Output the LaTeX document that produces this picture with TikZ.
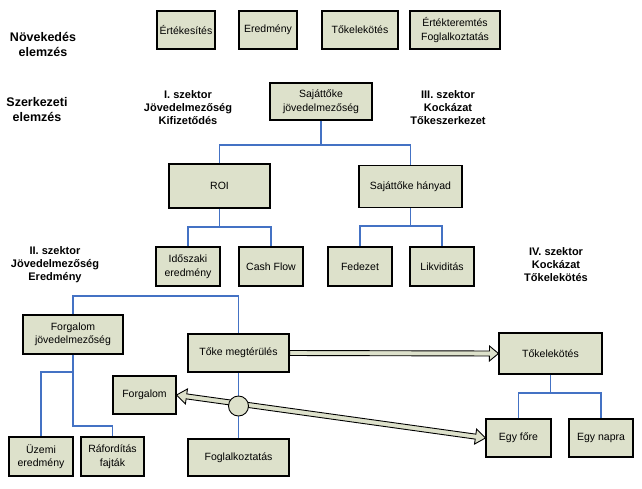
\documentclass[tikz,border=0pt]{standalone}
\usepackage{fontspec}
\setmainfont{Liberation Sans}
\usetikzlibrary{calc}
\definecolor{boxfill}{RGB}{221,225,203}
\definecolor{connblue}{RGB}{68,114,196}
\tikzset{
  box/.style={draw=black, fill=boxfill, line width=1.1pt, align=center, inner sep=1pt,
    font=\fontsize{10.5}{13.5}\selectfont},
  conn/.style={draw=connblue, line width=1.2pt},
  lbl/.style={align=center, font=\bfseries\fontsize{11}{13}\selectfont},
  biglbl/.style={align=center, font=\bfseries\fontsize{12.5}{15}\selectfont},
  blockarrow/.style={draw=black, fill=boxfill, line width=0.9pt, line join=miter},
}
\begin{document}
\begin{tikzpicture}[x=1pt,y=-1pt]
\useasboundingbox (0,0) rectangle (642,488);

% labels
\node[biglbl] (lg) at (43,44) {Növekedés\\elemzés};
\node[biglbl] (ls) at (37,110) {Szerkezeti\\elemzés};
\node[lbl] (l1) at (188,108) {I. szektor\\Jövedelmezőség\\Kifizetődés};
\node[lbl] (l3) at (448,108) {III. szektor\\Kockázat\\Tőkeszerkezet};
\node[lbl] (l2) at (55,265) {II. szektor\\Jövedelmezőség\\Eredmény};
\node[lbl] (l4) at (556,265) {IV. szektor\\Kockázat\\Tőkelekötés};

% top row
\node[box, minimum width=58pt, minimum height=38pt] (ert) at (186,30) {Értékesítés};
\node[box, minimum width=58pt, minimum height=38pt] (ered) at (268,30) {Eredmény};
\node[box, minimum width=76pt, minimum height=38pt] (tokA) at (360,30) {Tőkelekötés};
\node[box, minimum width=90pt, minimum height=38pt] (erteket) at (455,30) {Értékteremtés\\Foglalkoztatás};

% structure
\node[box, minimum width=102pt, minimum height=37pt] (sajat) at (321,101.5) {Sajáttőke\\jövedelmezőség};
\node[box, minimum width=101pt, minimum height=44pt] (roi) at (219.5,186) {ROI};
\node[box, minimum width=103pt, minimum height=42pt] (hanyad) at (410.5,186.5) {Sajáttőke hányad};
\node[box, minimum width=64pt, minimum height=39pt] (idosz) at (188,266.5) {Időszaki\\eredmény};
\node[box, minimum width=64pt, minimum height=39pt] (cash) at (271,266.5) {Cash Flow};
\node[box, minimum width=64pt, minimum height=39pt] (fedezet) at (360,266.5) {Fedezet};
\node[box, minimum width=64pt, minimum height=39pt] (likv) at (442,266.5) {Likviditás};

% bottom part
\node[box, minimum width=100pt, minimum height=39pt] (forgj) at (73,334.5) {Forgalom\\jövedelmezőség};
\node[box, minimum width=101pt, minimum height=38pt] (tokem) at (238.5,353) {Tőke megtérülés};
\node[box, minimum width=63pt, minimum height=38pt] (forg) at (144.5,395) {Forgalom};
\node[box, minimum width=101pt, minimum height=37pt] (fogl) at (238.5,457.5) {Foglalkoztatás};
\node[box, minimum width=64pt, minimum height=39pt] (uzemi) at (41,456.5) {Üzemi\\eredmény};
\node[box, minimum width=63pt, minimum height=39pt] (rafor) at (112.5,456.5) {Ráfordítás\\fajták};
\node[box, minimum width=103pt, minimum height=41pt] (tokB) at (550.5,353.5) {Tőkelekötés};
\node[box, minimum width=65pt, minimum height=38pt] (egyf) at (518.5,438) {Egy főre};
\node[box, minimum width=64pt, minimum height=38pt] (egyn) at (601,438) {Egy napra};

% blue connectors
\coordinate (j1) at (321,145);
\draw[conn] (sajat.south) -- (j1);
\draw[conn] (roi.north) |- (j1) -| (hanyad.north);
\coordinate (j2) at (219.5,227);
\draw[conn] (roi.south) -- (j2);
\draw[conn] (idosz.north) |- (j2) -| (cash.north);
\coordinate (j3) at (410.5,226);
\draw[conn] (hanyad.south) -- (j3);
\draw[conn] (fedezet.north) |- (j3) -| (likv.north);
\coordinate (j4) at (73,296);
\draw[conn] (forgj.north) -- (j4) -| (tokem.north);
\coordinate (j5) at (73,372);
\coordinate (j6) at (73,426);
\draw[conn] (forgj.south) -- (j6) -| (rafor.north);
\draw[conn] (j5) -| (uzemi.north);
\draw[conn] (tokem.south) -- (fogl.north);
\coordinate (j7) at (550.5,393);
\draw[conn] (tokB.south) -- (j7);
\draw[conn] (egyf.north) |- (j7) -| (egyn.north);

% horizontal block arrow
\coordinate (a1) at (tokem.east);
\coordinate (a2) at (tokB.west);
\coordinate (ah) at ($(a2)!9pt!(a1)$);
\draw[blockarrow] ($(a1)!2.5pt!90:(a2)$) -- ($(ah)!2.5pt!-90:(a1)$) -- ($(ah)!7.5pt!-90:(a1)$) -- (a2)
  -- ($(ah)!7.5pt!90:(a1)$) -- ($(ah)!2.5pt!90:(a1)$) -- ($(a1)!2.5pt!-90:(a2)$) -- cycle;

% diagonal double-headed block arrow
\coordinate (b1) at (forg.east);
\coordinate (b2) at (egyf.west);
\coordinate (bh1) at ($(b1)!10pt!(b2)$);
\coordinate (bh2) at ($(b2)!10pt!(b1)$);
\draw[blockarrow] (b1) -- ($(bh1)!7.5pt!90:(b2)$) -- ($(bh1)!2.5pt!90:(b2)$) -- ($(bh2)!2.5pt!-90:(b1)$)
  -- ($(bh2)!7.5pt!-90:(b1)$) -- (b2) -- ($(bh2)!7.5pt!90:(b1)$) -- ($(bh2)!2.5pt!90:(b1)$)
  -- ($(bh1)!2.5pt!-90:(b2)$) -- ($(bh1)!7.5pt!-90:(b2)$) -- cycle;

% circle junction
\node[circle, draw=black, fill=boxfill, line width=0.9pt, minimum size=20pt, inner sep=0pt] (circ) at (238.5,406) {};
\end{tikzpicture}
\end{document}
